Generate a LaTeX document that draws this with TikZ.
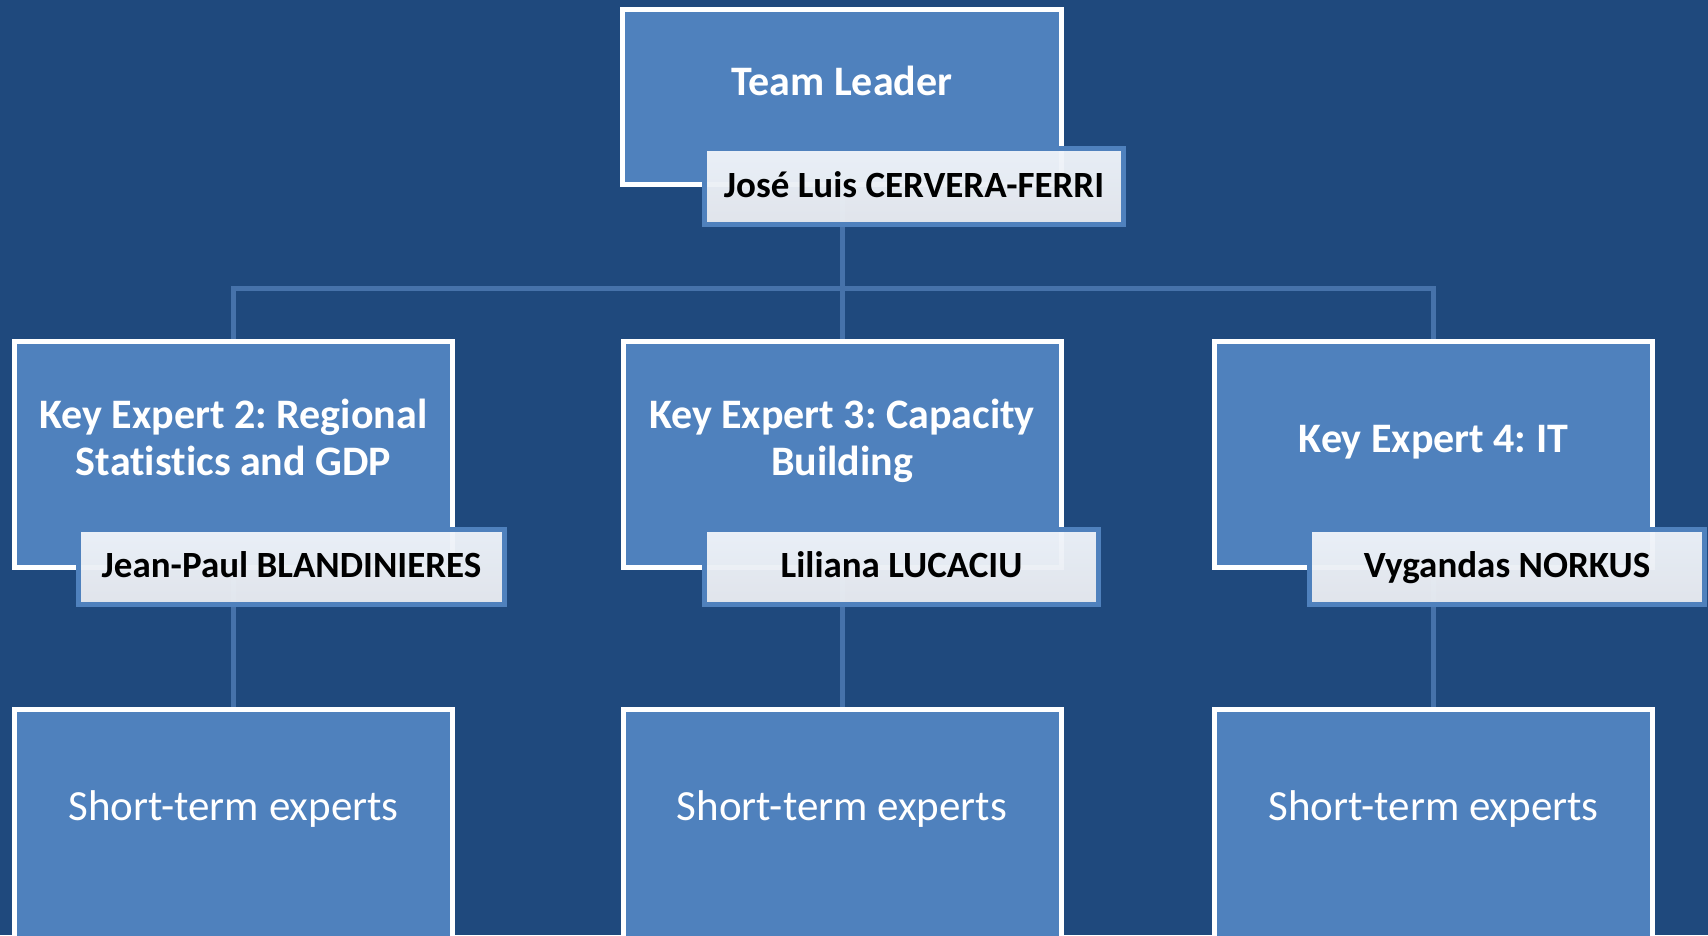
\documentclass[tikz,border=0pt]{standalone}
\usepackage{fontspec}
\setmainfont{Carlito}[Ligatures=NoCommon]
\frenchspacing
\definecolor{bgblue}{HTML}{1F497D}
\definecolor{boxblue}{HTML}{4F81BD}
\definecolor{linkblue}{HTML}{4672AA}
\definecolor{nametop}{HTML}{F0F4FA}
\definecolor{namebot}{HTML}{E8EBF0}
\pgfdeclarelayer{bg}
\pgfsetlayers{bg,main}
\tikzset{
  mainbox/.style={rectangle, draw=white, line width=5pt, fill=boxblue, inner sep=0pt, outer sep=0pt},
  namebox/.style={rectangle, draw=boxblue, line width=5pt, top color=nametop, bottom color=namebot, fill opacity=0.96, inner sep=0pt, outer sep=0pt},
  link/.style={draw=linkblue, line width=5pt, line join=miter},
  titletext/.style={text=white, font=\fontsize{42}{47}\selectfont\bfseries, inner sep=0pt},
  nametext/.style={text=black, font=\fontsize{37}{44}\selectfont\bfseries, inner sep=0pt},
  stetext/.style={text=white, font=\fontsize{43}{50}\selectfont, inner sep=0pt},
}
\begin{document}
\begin{tikzpicture}[x=1pt,y=-1pt]
\useasboundingbox (0,0) rectangle (1708,935);
\clip (0,0) rectangle (1708,935);
% main boxes
\node[mainbox, minimum width=439pt, minimum height=175pt] (tl) at (842,97) {};
\node[mainbox, minimum width=438pt, minimum height=226pt] (ke2) at (233.5,454.5) {};
\node[mainbox, minimum width=438pt, minimum height=226pt] (ke3) at (842,454.5) {};
\node[mainbox, minimum width=438pt, minimum height=226pt] (ke4) at (1433.5,454.5) {};
\node[mainbox, minimum width=438pt, minimum height=290pt] (ste2) at (233.5,854.5) {};
\node[mainbox, minimum width=438pt, minimum height=290pt] (ste3) at (842,854.5) {};
\node[mainbox, minimum width=438pt, minimum height=290pt] (ste4) at (1433.5,854.5) {};
% name boxes
\node[namebox, minimum width=419pt, minimum height=76pt] (tln) at (914,186.5) {};
\node[namebox, minimum width=426pt, minimum height=75pt] (ke2n) at (291.5,567) {};
\node[namebox, minimum width=394pt, minimum height=75pt] (ke3n) at (901.5,567) {};
\node[namebox, minimum width=395pt, minimum height=75pt] (ke4n) at (1507,567) {};
% texts
\node[titletext, anchor=base] (tlt) at (842,95) {Team Leader};
\node[nametext, anchor=base] (tlnt) at (914,197) {José Luis CERVERA-FERRI};
\node[titletext, anchor=base] (ke2ta) at (233.5,428) {Key Expert 2: Regional};
\node[titletext, anchor=base] (ke2tb) at (233.5,475) {Statistics and GDP};
\node[titletext, anchor=base] (ke3ta) at (842,428) {Key Expert 3: Capacity};
\node[titletext, anchor=base] (ke3tb) at (842,475) {Building};
\node[titletext, anchor=base] (ke4t) at (1433.5,452) {Key Expert 4: IT};
\node[nametext, anchor=base] (ke2nt) at (291.5,577) {Jean-Paul BLANDINIERES};
\node[nametext, anchor=base] (ke3nt) at (901.5,577) {Liliana LUCACIU};
\node[nametext, anchor=base] (ke4nt) at (1507,577) {Vygandas NORKUS};
\node[stetext, anchor=base] (ste2t) at (233.5,820) {Short-term experts};
\node[stetext, anchor=base] (ste3t) at (842,820) {Short-term experts};
\node[stetext, anchor=base] (ste4t) at (1433.5,820) {Short-term experts};
% background and connectors
\coordinate (hub) at (842,288);
\begin{pgfonlayer}{bg}
\fill[bgblue] (0,0) rectangle (1708,935);
\draw[link] (tl.south) -- (hub);
\draw[link] (hub) -- (ke3.north);
\draw[link] (ke2.north) |- (hub) -| (ke4.north);
\draw[link] (ke2.south) -- (ste2.north);
\draw[link] (ke3.south) -- (ste3.north);
\draw[link] (ke4.south) -- (ste4.north);
\end{pgfonlayer}
\end{tikzpicture}
\end{document}
